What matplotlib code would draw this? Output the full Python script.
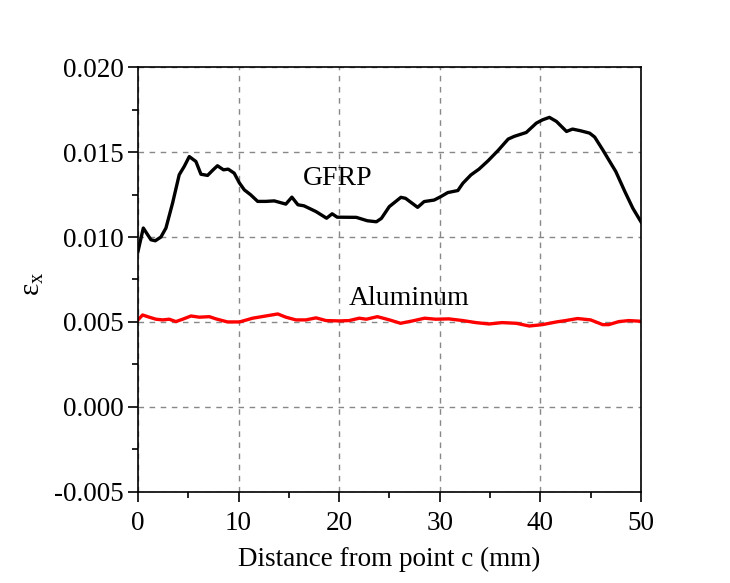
import matplotlib
matplotlib.use("Agg")
import matplotlib.pyplot as plt
from matplotlib.ticker import MultipleLocator

plt.rcParams['font.family'] = ['Liberation Serif', 'DejaVu Serif']
plt.rcParams['mathtext.fontset'] = 'custom'
plt.rcParams['mathtext.rm'] = 'Liberation Serif'
plt.rcParams['mathtext.it'] = 'Liberation Serif:italic'

gfrp_x = [0, 0.53, 1.29, 1.72, 2.28, 2.78, 3.44, 4.1, 4.6, 5.1, 5.76, 6.26, 6.92, 7.4, 7.9,
          8.5, 8.97, 9.57, 10.07, 10.57, 11.2, 11.9, 12.7, 13.55, 14.7, 15.3, 15.9, 16.5,
          17.7, 18.75, 19.3, 19.8, 21.7, 22.8, 23.7, 24.2, 24.98, 26.14, 26.6, 27.8, 28.45,
          29.45, 30.1, 30.8, 31.8, 32.3, 33.1, 33.9, 34.8, 35.8, 36.8, 37.4, 38.6, 39.6,
          40.2, 40.9, 41.6, 42.6, 43.2, 44.0, 44.9, 45.4, 46.2, 47.0, 47.5, 48.4, 49.2, 50.0]
gfrp_y = [0.00915, 0.01053, 0.00984, 0.00978, 0.0100, 0.01053, 0.0120, 0.01367, 0.01416,
          0.01474, 0.01445, 0.0137, 0.01363, 0.01392, 0.0142, 0.01396, 0.0140, 0.01376,
          0.0132, 0.01278, 0.01249, 0.0121, 0.0121, 0.01213, 0.01194, 0.01235, 0.0119,
          0.01184, 0.0115, 0.01111, 0.01137, 0.01117, 0.01116, 0.01096, 0.0109, 0.0111,
          0.01179, 0.01234, 0.01228, 0.01175, 0.01209, 0.01218, 0.01238, 0.01262, 0.01274,
          0.01317, 0.01366, 0.0140, 0.01449, 0.0151, 0.01577, 0.01593, 0.01616, 0.01671,
          0.0169, 0.01705, 0.01681, 0.01622, 0.01636, 0.01626, 0.01612, 0.01589, 0.01514,
          0.01435, 0.01386, 0.01268, 0.01169, 0.0109]

al_x = [0, 0.46, 1.12, 1.79, 2.45, 3.11, 3.77, 4.44, 5.27, 6.1, 7.1, 7.75, 8.9, 10.1, 11.4,
        12.7, 13.9, 14.7, 15.7, 16.7, 17.7, 18.7, 20.0, 21.0, 22.0, 22.7, 23.8, 25.0, 26.1,
        27.3, 28.5, 29.6, 30.9, 32.3, 33.6, 34.9, 36.2, 37.6, 38.9, 40.2, 41.6, 42.5, 43.7,
        45.0, 46.2, 46.8, 47.8, 48.8, 50.0]
al_y = [0.00512, 0.00541, 0.00528, 0.00516, 0.00512, 0.00516, 0.00502, 0.00516, 0.00535,
        0.00528, 0.00531, 0.00518, 0.0050, 0.0050, 0.00522, 0.00535, 0.00547, 0.00528,
        0.00512, 0.00512, 0.00524, 0.00508, 0.00506, 0.00508, 0.00522, 0.00516, 0.00531,
        0.00512, 0.00492, 0.00506, 0.00522, 0.00516, 0.00518, 0.00508, 0.00496, 0.00488,
        0.00496, 0.00492, 0.00476, 0.00484, 0.0050, 0.00508, 0.0052, 0.00512, 0.00484,
        0.00484, 0.00502, 0.00508, 0.00504]

fig = plt.figure(figsize=(7.30, 5.83), dpi=100)
ax = fig.add_axes([0.189, 0.1566, 0.689, 0.728])

ax.plot(gfrp_x, gfrp_y, color='black', lw=2.4)
ax.plot(al_x, al_y, color='#ff0000', lw=2.4)

ax.set_xlim(0, 50)
ax.set_ylim(-0.005, 0.020)
ax.xaxis.set_major_locator(MultipleLocator(10))
ax.xaxis.set_minor_locator(MultipleLocator(5))
ax.yaxis.set_major_locator(MultipleLocator(0.005))
ax.yaxis.set_minor_locator(MultipleLocator(0.0025))
ax.yaxis.set_major_formatter(matplotlib.ticker.FormatStrFormatter('%.3f'))
ax.tick_params(which='major', direction='out', length=7, width=1.2, labelsize=19.5)
ax.tick_params(axis='x', which='major', pad=7)
ax.tick_params(which='minor', direction='out', length=4, width=1.2)
ax.tick_params(top=False, right=False)
ax.grid(True, which='major', color='#888888', linestyle=(0, (4, 4)), lw=1)
for s in ax.spines.values():
    s.set_linewidth(1.2)

ax.set_xlabel('Distance from point c (mm)', fontsize=19.5, labelpad=8)
ax.set_ylabel(r'ε$_{\mathregular{x}}$', fontsize=21)
ax.yaxis.set_label_coords(-0.183, 0.49)

ax.text(19.9, 0.01342, 'GFRP', fontsize=20, ha='center', va='center')
ax.text(27.0, 0.00636, 'Aluminum', fontsize=20, ha='center', va='center')

fig.savefig('out.png', dpi=100)
